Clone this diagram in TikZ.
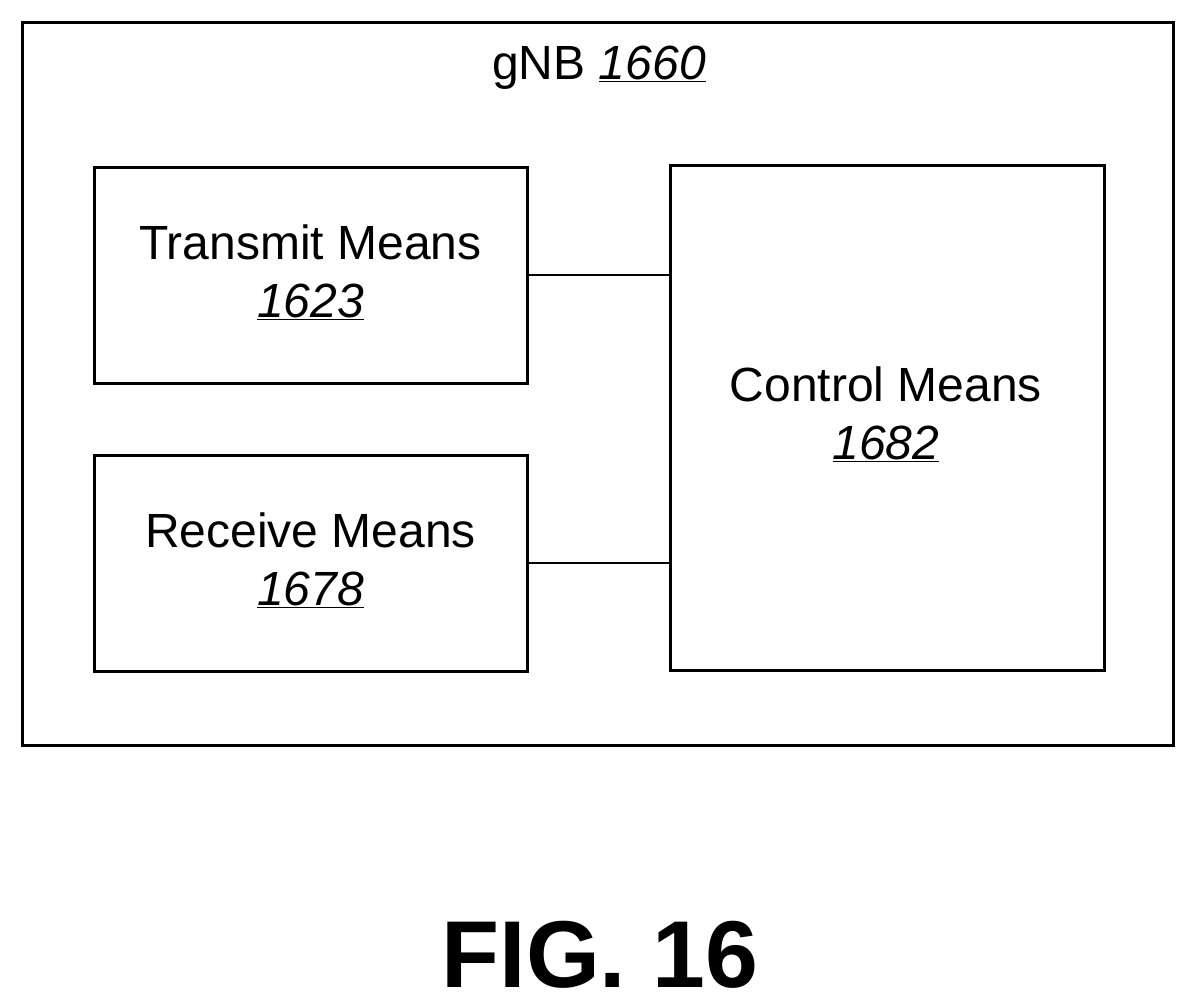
\documentclass[tikz,border=0pt]{standalone}
\usepackage{fontspec}
\setmainfont{Liberation Sans}
\begin{document}
\begin{tikzpicture}[x=1pt,y=-1pt,
  box/.style={draw,line width=3pt},
  lbl/.style={font=\fontsize{48}{58}\selectfont,align=center},
  link/.style={line width=2.5pt}]
\useasboundingbox (0,0) rectangle (1198,1007);
\draw[box] (22,22) rectangle (1173,745);
\node[lbl] (g) at (599,68) {gNB \underline{\textit{1660}}};
\node[box,minimum width=433pt,minimum height=216pt] (t) at (310.5,275) {};
\node[lbl] (tl) at (310.5,272) {Transmit Means\\\underline{\textit{1623}}};
\node[box,minimum width=433pt,minimum height=216pt] (r) at (310.5,563) {};
\node[lbl] (rl) at (310.5,560) {Receive Means\\\underline{\textit{1678}}};
\node[box,minimum width=434pt,minimum height=505pt] (c) at (887,417.5) {};
\node[lbl] (cl) at (886,414) {Control Means\\\underline{\textit{1682}}};
\draw[link] (t.east) -- (t.east -| c.west);
\draw[link] (r.east) -- (r.east -| c.west);
\node[font=\fontsize{95}{100}\selectfont\bfseries] (f) at (600,955) {FIG. 16};
\end{tikzpicture}
\end{document}
